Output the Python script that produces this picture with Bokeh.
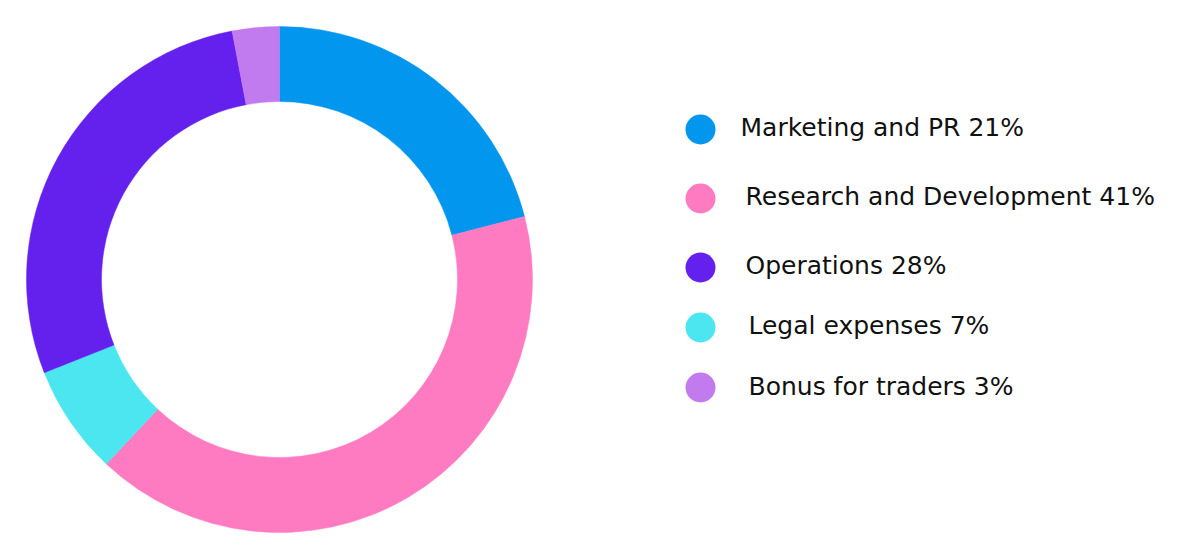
import math
from bokeh.plotting import figure
from bokeh.models import Range1d, ColumnDataSource
from bokeh.core.properties import value
from bokeh.embed import file_html
from bokeh.resources import INLINE

# ---- data ----
categories = ["Marketing and PR", "Research and Development", "Operations", "Legal expenses", "Bonus for traders"]
shares = [21, 41, 28, 7, 3]
labels = ["Marketing and PR 21%", "Research and Development  41%", "Operations  28%", "Legal expenses 7%", "Bonus for traders 3%"]
colors = ["#0396EE", "#FF7BC1", "#6421EE", "#4CE6F0", "#C27BEE"]
ring_order = ["Marketing and PR", "Research and Development", "Legal expenses", "Operations", "Bonus for traders"]

W, H = 1193, 557
p = figure(width=W, height=H, output_backend="svg", toolbar_location=None,
           x_range=Range1d(0, W), y_range=Range1d(0, H), min_border=0)
p.axis.visible = False
p.grid.visible = False
p.outline_line_color = None
p.background_fill_color = "white"
p.border_fill_color = "white"

# ---- donut ----
cx, cy = 279, H - 279
total = float(sum(shares))
starts, ends, cols = [], [], []
cum = 0.0
for name in ring_order:
    i = categories.index(name)
    a0 = math.pi / 2 - 2 * math.pi * cum / total
    cum += shares[i]
    a1 = math.pi / 2 - 2 * math.pi * cum / total
    starts.append(a0)
    ends.append(a1)
    cols.append(colors[i])
src = ColumnDataSource(dict(x=[cx] * len(starts), y=[cy] * len(starts), start=starts, end=ends, color=cols))
p.annular_wedge(x="x", y="y", inner_radius=178, outer_radius=253, start_angle="start", end_angle="end",
                direction="clock", fill_color="color", line_color="color", line_width=0.5, source=src)

# ---- legend ----
row_y = [H - 127, H - 196, H - 265, H - 325, H - 386]
text_x = [740, 745, 745, 748, 748]
p.scatter(x=[700] * 5, y=[H - 129, H - 198, H - 267, H - 327, H - 387], size=30, marker="circle",
          fill_color=colors, line_color=None)
p.text(x=text_x, y=row_y, text=labels, text_font=value("DejaVu Sans"), text_font_size="25px",
       text_baseline="middle", text_align="left", text_color="#111111")

open("out.html", "w").write(file_html(p, INLINE))
